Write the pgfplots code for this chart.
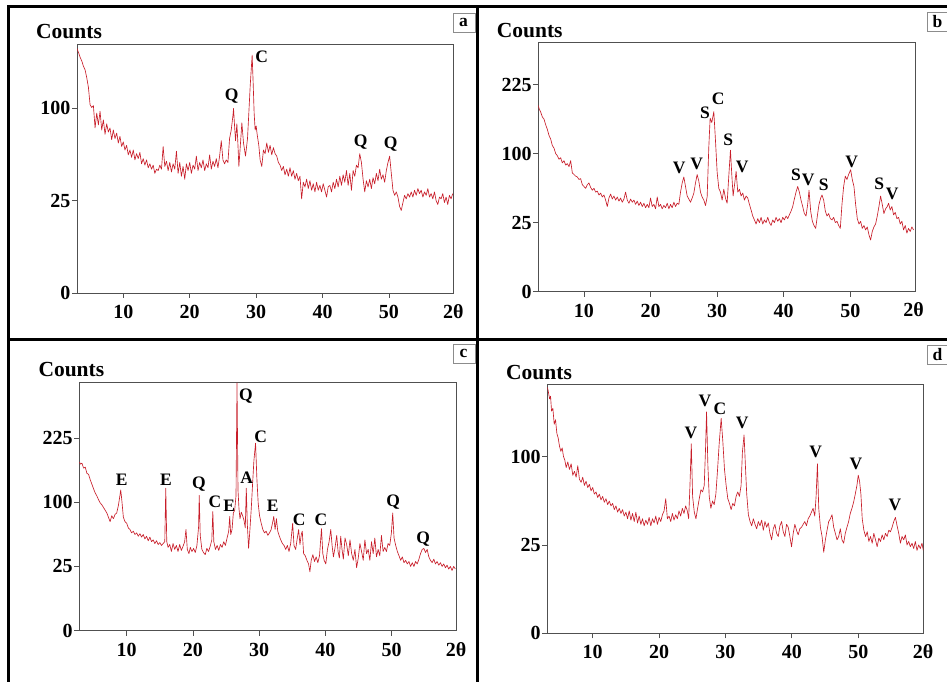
\documentclass[border=0pt]{standalone}
\usepackage{fontspec}
\setmainfont{Liberation Serif}
\usepackage{pgfplots}
\pgfplotsset{compat=1.18}
\definecolor{xrd}{RGB}{200,30,42}
\definecolor{boxgray}{RGB}{80,80,80}
\newcommand{\tfont}{\bfseries\fontsize{20}{20}\selectfont}
\newcommand{\pfont}{\bfseries\fontsize{17.5}{17.5}\selectfont}
\newcommand{\cfont}{\bfseries\fontsize{21.5}{21.5}\selectfont}
\pgfplotsset{xrdaxis/.style={
  scale only axis, anchor=south west,
  axis line style={boxgray, line width=0.9pt},
  tick style={boxgray, line width=0.8pt},
  tick align=outside, major tick length=5pt, tick pos=left,
  xtick={10,20,30,40,50}, xticklabels={10,20,30,40,50},
  ymin=0,
  ticklabel style={font=\tfont},
  yticklabel style={inner sep=1.5pt},
  xticklabel style={inner sep=2pt, yshift=-5pt},
}}
\pgfplotsset{xrdline/.style={xrd, line width=0.65pt, mark=none, line join=round, y filter/.code={\pgfmathparse{sqrt(##1)}}}}
\begin{document}
\begin{tikzpicture}
\path[use as bounding box] (0pt,0pt) rectangle (947pt,682pt);
% ---------- a ----------
\begin{axis}[xrdaxis, at={(77pt,389pt)}, width=376pt, height=249pt,
  xmin=3.03, xmax=59.64, ymax=13.49, ytick={0,5,10}, yticklabels={0,25,100}]
\addplot[xrdline] coordinates {
(3.00,176)(3.25,170)(3.50,163)(3.75,158)(4.00,151)(4.25,146)(4.50,136)(4.75,124)(5.00,104)(5.25,101)(5.50,103)(5.75,80)(6.00,95)(6.25,83)(6.50,97)(6.75,78)(7.00,88)(7.25,74)(7.50,84)(7.75,76)(8.00,80)(8.25,69)(8.50,78)(8.75,70)(9.00,75)(9.25,66)(9.50,72)(9.75,63)(10.00,67)(10.25,60)(10.50,64)(10.75,56)(11.00,60)(11.25,54)(11.50,60)(11.75,52)(12.00,57)(12.25,53)(12.50,58)(12.75,49)(13.00,53)(13.25,48)(13.50,52)(13.75,46)(14.00,49)(14.25,45)(14.50,48)(14.75,42)(15.00,45)(15.25,44)(15.50,48)(15.75,45)(16.00,63)(16.25,47)(16.50,51)(16.75,44)(17.00,50)(17.25,43)(17.50,49)(17.75,45)(18.00,59)(18.25,42)(18.50,50)(18.75,40)(19.00,47)(19.25,38)(19.50,49)(19.75,44)(20.00,50)(20.25,42)(20.50,48)(20.75,45)(21.00,55)(21.25,44)(21.50,50)(21.75,46)(22.00,52)(22.25,44)(22.50,49)(22.75,46)(23.00,56)(23.25,45)(23.50,51)(23.75,47)(24.00,53)(24.25,46)(24.50,55)(24.75,68)(25.00,52)(25.25,49)(25.50,52)(25.75,50)(26.00,70)(26.25,78)(26.50,92)(26.60,100)(26.75,82)(26.90,68)(27.10,84)(27.25,66)(27.40,47)(27.60,62)(27.85,85)(28.10,66)(28.40,55)(28.70,70)(28.90,95)(29.10,125)(29.25,145)(29.40,166)(29.55,130)(29.70,95)(29.85,78)(30.00,82)(30.15,74)(30.40,64)(30.60,52)(30.85,47)(31.10,60)(31.35,57)(31.60,66)(31.85,58)(32.10,64)(32.35,56)(32.60,62)(32.85,57)(33.10,55)(33.35,50)(33.60,48)(33.85,44)(34.10,47)(34.35,41)(34.60,45)(34.85,40)(35.10,46)(35.35,40)(35.60,44)(35.85,38)(36.10,42)(36.35,37)(36.60,40)(36.85,26)(37.10,36)(37.35,33)(37.60,38)(37.85,32)(38.10,37)(38.35,31)(38.60,35)(38.85,30)(39.10,36)(39.35,31)(39.60,34)(39.85,30)(40.10,35)(40.35,31)(40.60,27)(40.85,33)(41.10,34)(41.35,30)(41.60,36)(41.85,32)(42.10,38)(42.35,33)(42.60,40)(42.85,34)(43.10,41)(43.35,36)(43.60,44)(43.85,34)(44.10,42)(44.35,31)(44.60,44)(44.85,40)(45.10,48)(45.35,46)(45.60,57)(45.85,50)(46.10,38)(46.35,30)(46.60,37)(46.85,33)(47.10,38)(47.35,32)(47.60,39)(47.85,35)(48.10,42)(48.35,37)(48.60,45)(48.85,38)(49.10,41)(49.35,36)(49.60,44)(49.85,50)(50.10,55)(50.35,42)(50.60,31)(50.85,28)(51.10,30)(51.35,27)(51.60,22)(51.85,20)(52.10,24)(52.35,28)(52.60,26)(52.85,29)(53.10,27)(53.35,30)(53.60,27)(53.85,31)(54.10,28)(54.35,32)(54.60,29)(54.85,31)(55.10,27)(55.35,30)(55.60,28)(55.85,32)(56.10,27)(56.35,29)(56.60,26)(56.85,30)(57.10,25)(57.35,23)(57.60,27)(57.85,26)(58.10,29)(58.35,24)(58.60,27)(58.85,23)(59.10,28)(59.35,26)(59.60,29)};
\end{axis}
% ---------- b ----------
\begin{axis}[xrdaxis, at={(538.3pt,390.3pt)}, width=376.7pt, height=249pt,
  xmin=3.14, xmax=59.72, ymax=18.03, ytick={0,5,10,15}, yticklabels={0,25,100,225}]
\addplot[xrdline] coordinates {
(3.15,182)(3.25,176)(3.50,169)(3.75,160)(4.00,156)(4.25,146)(4.50,138)(4.75,128)(5.00,122)(5.25,112)(5.50,108)(5.75,100)(6.00,97)(6.25,92)(6.50,94)(6.75,87)(7.00,90)(7.25,84)(7.50,86)(7.75,82)(8.00,90)(8.25,74)(8.50,72)(8.75,70)(9.00,69)(9.25,66)(9.50,67)(9.75,60)(10.00,58)(10.25,56)(10.50,60)(10.75,62)(11.00,57)(11.25,54)(11.50,56)(11.75,52)(12.00,53)(12.25,49)(12.50,51)(12.75,47)(13.00,49)(13.25,44)(13.50,38)(13.75,46)(14.00,50)(14.25,45)(14.50,48)(14.75,44)(15.00,47)(15.25,43)(15.50,46)(15.75,42)(16.00,45)(16.25,52)(16.50,44)(16.75,41)(17.00,45)(17.25,42)(17.50,44)(17.75,40)(18.00,43)(18.25,39)(18.50,42)(18.75,38)(19.00,41)(19.25,37)(19.50,40)(19.75,37)(20.00,46)(20.25,38)(20.50,40)(20.75,36)(21.00,47)(21.25,38)(21.50,40)(21.75,36)(22.00,39)(22.25,37)(22.50,41)(22.75,36)(23.00,40)(23.25,37)(23.50,42)(23.75,38)(24.00,41)(24.25,40)(24.50,52)(24.75,62)(25.00,69)(25.25,58)(25.50,48)(25.75,45)(26.00,42)(26.25,46)(26.50,51)(26.75,62)(27.00,72)(27.25,64)(27.50,52)(27.75,47)(28.00,44)(28.25,39)(28.50,47)(28.75,110)(28.95,158)(29.20,150)(29.50,170)(29.75,120)(30.00,75)(30.25,56)(30.50,52)(30.75,44)(31.00,55)(31.25,46)(31.50,41)(31.75,70)(32.00,105)(32.20,72)(32.40,48)(32.65,62)(32.85,76)(33.10,52)(33.35,55)(33.60,48)(33.85,51)(34.10,44)(34.35,48)(34.60,46)(34.85,40)(35.10,35)(35.35,30)(35.60,27)(35.85,24)(36.10,28)(36.35,25)(36.60,29)(36.85,24)(37.10,27)(37.35,25)(37.60,29)(37.85,25)(38.10,23)(38.35,27)(38.60,25)(38.85,29)(39.10,26)(39.35,28)(39.60,25)(39.85,29)(40.10,27)(40.35,30)(40.60,28)(40.85,31)(41.10,34)(41.35,38)(41.60,45)(41.85,52)(42.10,58)(42.35,52)(42.60,44)(42.85,38)(43.10,32)(43.35,30)(43.60,40)(43.80,54)(44.05,34)(44.30,26)(44.55,23)(44.80,21)(45.05,30)(45.30,40)(45.55,46)(45.75,49)(46.00,44)(46.25,34)(46.50,30)(46.75,32)(47.00,28)(47.25,27)(47.50,29)(47.75,25)(48.00,26)(48.25,23)(48.50,21)(48.75,40)(49.00,58)(49.25,70)(49.50,66)(49.75,72)(50.05,78)(50.30,66)(50.55,58)(50.80,40)(51.05,28)(51.30,24)(51.55,26)(51.80,21)(52.05,23)(52.30,20)(52.55,22)(52.80,17)(53.05,14)(53.30,19)(53.55,22)(53.80,24)(54.05,30)(54.30,38)(54.55,48)(54.80,40)(55.05,32)(55.30,36)(55.55,38)(55.75,41)(56.00,35)(56.25,38)(56.50,31)(56.75,33)(57.00,28)(57.25,29)(57.50,24)(57.75,26)(58.00,20)(58.25,23)(58.50,18)(58.75,21)(59.00,19)(59.25,22)(59.50,20)};
\end{axis}
% ---------- c ----------
\begin{axis}[xrdaxis, at={(79.3pt,51.3pt)}, width=376.7pt, height=248pt,
  xmin=2.85, xmax=59.7, ymax=19.3, ytick={0,5,10,15}, yticklabels={0,25,100,225}]
\addplot[xrdline] coordinates {
(2.9,172)(3.0,168)(3.25,170)(3.5,160)(3.75,162)(4.0,150)(4.25,148)(4.5,138)(4.75,130)(5.0,122)(5.25,115)(5.5,110)(5.75,104)(6.0,99)(6.25,96)(6.5,92)(6.75,88)(7.0,84)(7.25,78)(7.5,72)(7.75,80)(8.0,76)(8.25,82)(8.5,84)(8.75,95)(9.0,112)(9.1,120)(9.25,105)(9.5,78)(9.75,72)(10.0,70)(10.25,64)(10.5,62)(10.75,58)(11.0,60)(11.25,56)(11.5,58)(11.75,54)(12.0,57)(12.25,53)(12.5,56)(12.75,51)(13.0,54)(13.25,49)(13.5,53)(13.75,48)(14.0,50)(14.25,46)(14.5,49)(14.75,45)(15.0,47)(15.25,44)(15.5,46)(15.75,48)(15.9,123)(16.05,48)(16.25,42)(16.5,45)(16.75,38)(17.0,46)(17.25,40)(17.5,44)(17.75,38)(18.0,45)(18.25,39)(18.5,43)(18.75,48)(18.95,62)(19.15,40)(19.4,36)(19.6,42)(19.85,38)(20.1,41)(20.35,37)(20.6,44)(20.85,65)(20.95,111)(21.1,55)(21.35,40)(21.6,37)(21.85,35)(22.1,41)(22.35,38)(22.6,43)(22.85,50)(23.0,86)(23.15,48)(23.4,40)(23.65,44)(23.9,39)(24.15,45)(24.4,42)(24.65,48)(24.9,44)(25.15,52)(25.4,60)(25.55,79)(25.7,56)(25.9,62)(26.1,84)(26.3,88)(26.5,110)(26.65,372)(26.8,120)(26.95,90)(27.1,76)(27.3,85)(27.5,80)(27.7,74)(27.9,64)(28.05,123)(28.2,70)(28.4,41)(28.6,62)(28.8,90)(29.0,130)(29.2,175)(29.45,213)(29.65,140)(29.85,98)(30.05,80)(30.3,70)(30.55,62)(30.8,58)(31.05,60)(31.3,55)(31.55,58)(31.8,62)(32.0,70)(32.2,79)(32.4,62)(32.6,76)(32.8,60)(33.0,55)(33.25,50)(33.5,46)(33.75,44)(34.0,40)(34.25,44)(34.5,38)(34.75,46)(35.05,70)(35.25,44)(35.5,40)(35.75,52)(35.95,62)(36.15,45)(36.35,56)(36.5,60)(36.7,36)(36.95,34)(37.2,30)(37.45,27)(37.65,21)(37.85,30)(38.1,35)(38.35,29)(38.6,33)(38.85,28)(39.1,34)(39.4,63)(39.6,36)(39.8,30)(40.05,27)(40.3,40)(40.55,48)(40.8,62)(41.0,44)(41.2,33)(41.45,42)(41.7,55)(41.9,38)(42.1,32)(42.3,54)(42.5,40)(42.7,31)(42.95,52)(43.2,45)(43.45,34)(43.7,50)(43.95,36)(44.2,30)(44.45,40)(44.7,24)(44.95,32)(45.2,46)(45.45,38)(45.7,30)(45.95,50)(46.2,36)(46.45,40)(46.7,30)(46.95,48)(47.2,36)(47.45,52)(47.7,33)(47.95,40)(48.2,34)(48.45,55)(48.7,38)(48.95,42)(49.2,38)(49.45,46)(49.7,44)(49.95,58)(50.15,84)(50.35,52)(50.6,44)(50.85,38)(51.1,34)(51.35,30)(51.6,33)(51.85,28)(52.1,30)(52.35,27)(52.6,29)(52.85,25)(53.1,28)(53.35,25)(53.6,29)(53.85,27)(54.1,31)(54.35,36)(54.6,40)(54.85,41)(55.1,37)(55.35,40)(55.6,33)(55.85,30)(56.1,28)(56.35,31)(56.6,27)(56.85,29)(57.1,26)(57.35,28)(57.6,25)(57.85,27)(58.1,24)(58.35,26)(58.6,23)(58.85,25)(59.1,22)(59.35,25)(59.6,23)};
\end{axis}
% ---------- d ----------
\begin{axis}[xrdaxis, at={(547.3pt,48.7pt)}, width=376pt, height=249pt,
  xmin=3.16, xmax=59.8, ymax=14.09, ytick={0,5,10}, yticklabels={0,25,100}]
\addplot[xrdline] coordinates {
(3.16,194)(3.3,188)(3.5,176)(3.65,180)(3.8,158)(4.0,162)(4.2,140)(4.4,146)(4.6,128)(4.8,122)(5.0,112)(5.2,106)(5.4,110)(5.6,100)(5.8,96)(6.0,88)(6.25,94)(6.5,86)(6.75,92)(7.0,80)(7.25,84)(7.5,78)(7.75,90)(8.0,76)(8.25,73)(8.5,78)(8.75,70)(9.0,74)(9.25,68)(9.5,71)(9.75,65)(10.0,68)(10.25,62)(10.5,64)(10.75,59)(11.0,62)(11.25,57)(11.5,60)(11.75,55)(12.0,58)(12.25,53)(12.5,56)(12.75,52)(13.0,54)(13.25,49)(13.5,52)(13.75,47)(14.0,50)(14.25,46)(14.5,49)(14.75,44)(15.0,47)(15.25,42)(15.5,48)(15.75,41)(16.0,46)(16.25,40)(16.5,47)(16.75,39)(17.0,44)(17.25,38)(17.5,42)(17.75,37)(18.0,41)(18.25,38)(18.5,43)(18.75,37)(19.0,42)(19.25,39)(19.5,44)(19.75,38)(20.0,43)(20.25,40)(20.5,45)(20.75,48)(21.0,58)(21.25,42)(21.5,44)(21.75,40)(22.0,46)(22.25,41)(22.5,45)(22.75,42)(23.0,48)(23.25,44)(23.5,50)(23.75,46)(24.0,52)(24.25,48)(24.45,42)(24.65,70)(24.85,115)(25.05,60)(25.3,47)(25.55,42)(25.8,50)(26.05,58)(26.3,66)(26.55,64)(26.8,70)(27.0,110)(27.15,157)(27.35,90)(27.55,60)(27.8,50)(28.05,56)(28.3,53)(28.55,62)(28.8,85)(29.05,115)(29.35,148)(29.6,118)(29.85,86)(30.1,70)(30.35,58)(30.6,54)(30.85,49)(31.1,54)(31.35,52)(31.6,60)(31.85,64)(32.1,60)(32.35,70)(32.55,105)(32.8,126)(33.0,90)(33.2,62)(33.45,45)(33.7,40)(33.95,37)(34.2,42)(34.45,38)(34.7,35)(34.95,40)(35.2,37)(35.45,41)(35.7,34)(35.95,40)(36.2,36)(36.45,39)(36.7,32)(36.95,28)(37.2,35)(37.45,38)(37.7,32)(37.95,30)(38.2,37)(38.45,40)(38.7,33)(38.95,30)(39.2,38)(39.45,36)(39.7,30)(39.95,24)(40.2,32)(40.45,38)(40.7,34)(40.95,31)(41.2,35)(41.45,36)(41.7,38)(41.95,40)(42.2,37)(42.45,42)(42.7,44)(42.95,47)(43.2,50)(43.45,44)(43.65,60)(43.85,92)(44.05,50)(44.3,36)(44.55,30)(44.8,21)(45.05,28)(45.3,34)(45.55,40)(45.8,42)(46.05,45)(46.3,36)(46.55,32)(46.8,28)(47.05,30)(47.3,35)(47.55,28)(47.8,26)(48.05,32)(48.3,36)(48.55,40)(48.8,46)(49.05,50)(49.3,55)(49.55,62)(49.8,70)(50.0,80)(50.2,74)(50.4,62)(50.6,42)(50.85,34)(51.1,30)(51.35,33)(51.6,27)(51.85,30)(52.1,26)(52.35,32)(52.6,28)(52.85,24)(53.1,29)(53.35,27)(53.6,31)(53.85,28)(54.1,32)(54.35,30)(54.6,34)(54.85,33)(55.1,36)(55.35,40)(55.6,43)(55.85,37)(56.1,32)(56.35,26)(56.6,30)(56.85,28)(57.1,31)(57.35,25)(57.6,27)(57.85,24)(58.1,26)(58.35,23)(58.6,27)(58.85,22)(59.1,25)(59.35,23)(59.6,26)(59.8,22)};
\end{axis}
% ---------- frame ----------
\draw[line width=3pt] (8pt,0pt) -- (8pt,675pt) -- (947pt,675pt);
\draw[line width=3pt] (477pt,0pt) -- (477pt,675pt);
\draw[line width=3pt] (8pt,342.5pt) -- (947pt,342.5pt);
% ---------- panel letters ----------
\draw[black!45, line width=0.7pt, fill=white] (453pt,650pt) rectangle (475pt,669pt);
\node[font=\pfont, inner sep=0pt] at (463.5pt,659.5pt) {a};
\draw[black!45, line width=0.7pt, fill=white] (927pt,651pt) rectangle (949pt,670pt);
\node[font=\pfont, inner sep=0pt] at (937.5pt,660.5pt) {b};
\draw[black!45, line width=0.7pt, fill=white] (453pt,319pt) rectangle (475pt,338pt);
\node[font=\pfont, inner sep=0pt] at (463.5pt,328.5pt) {c};
\draw[black!45, line width=0.7pt, fill=white] (927pt,318pt) rectangle (949pt,337pt);
\node[font=\pfont, inner sep=0pt] at (937.5pt,327.5pt) {d};
% ---------- Counts ----------
\node[font=\cfont, anchor=base west, inner sep=0pt] at (36pt,643pt) {Counts};
\node[font=\cfont, anchor=base west, inner sep=0pt] at (496.7pt,644pt) {Counts};
\node[font=\cfont, anchor=base west, inner sep=0pt] at (38.3pt,305.3pt) {Counts};
\node[font=\cfont, anchor=base west, inner sep=0pt] at (506pt,302pt) {Counts};
% ---------- 2theta ----------
\node[font=\tfont, anchor=base, inner sep=0pt] at (453.3pt,363.8pt) {2θ};
\node[font=\tfont, anchor=base, inner sep=0pt] at (913.5pt,365.5pt) {2θ};
\node[font=\tfont, anchor=base, inner sep=0pt] at (456pt,25.5pt) {2θ};
\node[font=\tfont, anchor=base, inner sep=0pt] at (923pt,23.2pt) {2θ};
% ---------- peak labels ----------
\begin{scope}[every node/.style={font=\pfont, inner sep=0pt}]
\node at (231.7pt,586.3pt) {Q}; \node at (261.7pt,624.7pt) {C};
\node at (360.7pt,540.3pt) {Q}; \node at (390.7pt,538pt) {Q};
\node at (679.3pt,513.7pt) {V}; \node at (696.7pt,517.7pt) {V};
\node at (705pt,568.7pt) {S}; \node at (718.3pt,582.7pt) {C};
\node at (728.3pt,542pt) {S}; \node at (742.3pt,514.7pt) {V};
\node at (796pt,507pt) {S}; \node at (808.3pt,502pt) {V};
\node at (823.7pt,497.7pt) {S}; \node at (851.7pt,520.3pt) {V};
\node at (879.3pt,498.7pt) {S}; \node at (892.3pt,487.7pt) {V};
\node at (121.7pt,202pt) {E}; \node at (166pt,202.7pt) {E};
\node at (199pt,197.7pt) {Q}; \node at (215pt,180.3pt) {C};
\node at (229.3pt,176.3pt) {E}; \node at (246pt,286pt) {Q};
\node at (246.7pt,204.3pt) {A}; \node at (260.7pt,245.3pt) {C};
\node at (272.7pt,176.3pt) {E}; \node at (299.3pt,162pt) {C};
\node at (321pt,162pt) {C}; \node at (393.3pt,180.3pt) {Q};
\node at (423.3pt,143pt) {Q};
\node at (691pt,248.7pt) {V}; \node at (705pt,281.3pt) {V};
\node at (720pt,273.7pt) {C}; \node at (742.3pt,258.7pt) {V};
\node at (815.7pt,230.3pt) {V}; \node at (856pt,217.7pt) {V};
\node at (895pt,177pt) {V};
\end{scope}
\end{tikzpicture}
\end{document}
